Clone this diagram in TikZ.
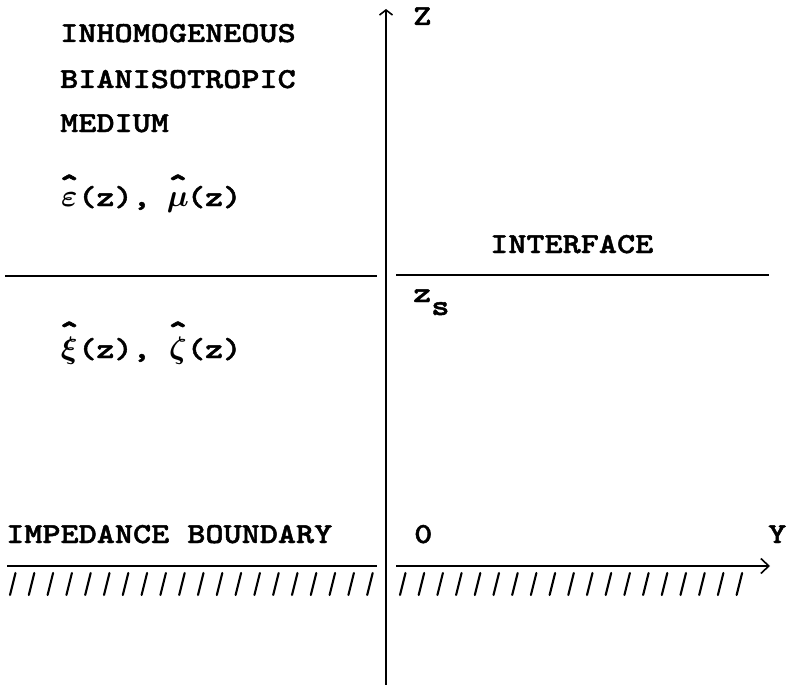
\documentclass[tikz,border=0pt]{standalone}
\usepackage{graphicx}
\usepackage{fontspec}
\newfontfamily\cour{lmmonolt10-bold.otf}[FakeStretch=1.19,FakeBold=1.6]
\usetikzlibrary{arrows.meta}
\newlength\cellw
\setlength\cellw{18.1pt}
\newcommand{\gcell}[2]{\makebox[\cellw][c]{\ooalign{\hfil\scalebox{1.25}{\boldmath$#2$}\hfil\cr\hfil\raisebox{#1}{\scalebox{1.3}{ˆ}}\hfil\cr}}}
\tikzset{
  lbl/.style={font=\fontsize{29}{35}\selectfont\cour, inner sep=0pt, anchor=base west},
  axisline/.style={line width=1.8pt},
  hatchline/.style={line width=2.1pt, line cap=round},
  zarrow/.style={-{Straight Barb[length=5pt,width=13pt,line width=1.6pt]}},
  yarrow/.style={-{Straight Barb[length=8pt,width=15pt,line width=1.6pt]}}
}
\begin{document}
\begin{tikzpicture}[x=1pt,y=-1pt]
\useasboundingbox (0,0) rectangle (788,685);
% texts
\node[lbl] (t1) at (60,42) {INHOMOGENEOUS};
\node[lbl] (t2) at (60,88) {BIANISOTROPIC};
\node[lbl] (t3) at (60,132) {MEDIUM};
\node[lbl] (epsmu) at (60,206) {\gcell{8pt}{\varepsilon}(z), \gcell{8pt}{\mu}(z)};
\node[lbl] (xizeta) at (60,358) {\gcell{13pt}{\xi}(z), \gcell{13pt}{\zeta}(z)};
\node[lbl] (iface) at (490,253) {INTERFACE};
\node[lbl] (zlab) at (413,25) {Z};
\node[lbl] (zs) at (413,302) {z\raisebox{-13pt}{s}};
\node[lbl] (imp) at (6,543) {IMPEDANCE BOUNDARY};
\node[lbl] (orig) at (414,543) {0};
\node[lbl] (ylab) at (768,543) {Y};
% coordinates
\coordinate (zb) at (386,685);
\coordinate (zt) at (386,9);
\coordinate (il1) at (5,276);
\coordinate (il2) at (377,276);
\coordinate (ir1) at (396,275);
\coordinate (ir2) at (769,275);
\coordinate (bl1) at (7,566);
\coordinate (bl2) at (377,566);
\coordinate (br1) at (396,566);
\coordinate (br2) at (770,566);
% axes and lines
\draw[axisline,zarrow] (zb) -- (zt);
\draw[axisline] (il1) -- (il2);
\draw[axisline] (ir1) -- (ir2);
\draw[axisline] (bl1) -- (bl2);
\draw[axisline,yarrow] (br1) -- (br2);
% hatches
\foreach \i in {0,...,19} {
  \draw[hatchline] ({10+18.8*\i},595) -- ++(5.5,-22);
}
\foreach \i in {0,...,18} {
  \draw[hatchline] ({400+18.7*\i},595) -- ++(5.5,-22);
}
\end{tikzpicture}
\end{document}
